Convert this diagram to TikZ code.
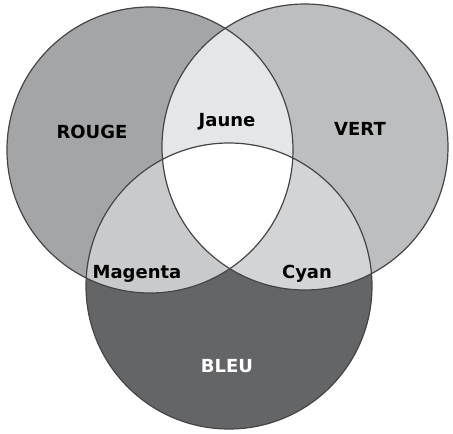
\documentclass[tikz,border=0pt]{standalone}
\usepackage{fontspec}
\setmainfont{DejaVu Sans}
\definecolor{rougegris}{HTML}{A4A5A7}
\definecolor{vertgris}{HTML}{BDBEC0}
\definecolor{bleugris}{HTML}{646567}
\definecolor{jaunegris}{HTML}{E4E6E8}
\definecolor{magentagris}{HTML}{C9CACC}
\definecolor{cyangris}{HTML}{D3D4D6}
\definecolor{trait}{HTML}{454547}
\tikzstyle{label} = [font=\fontsize{18}{20}\selectfont\bfseries, text=black]
\tikzstyle{contour} = [draw=trait, line width=1.2pt]

\begin{document}
\begin{tikzpicture}[x=1pt,y=-1pt]
  \useasboundingbox (0,0) rectangle (453,434);
  \fill[white] (0,0) rectangle (453,434);

  \coordinate (R) at (150,150);
  \coordinate (V) at (305,147);
  \coordinate (B) at (229,286);
  \def\rayon{143}

  % disques simples
  \fill[rougegris] (R) circle (\rayon);
  \fill[vertgris]  (V) circle (\rayon);
  \fill[bleugris]  (B) circle (\rayon);

  % intersections
  \begin{scope}
    \clip (R) circle (\rayon);
    \fill[jaunegris]   (V) circle (\rayon);
    \fill[magentagris] (B) circle (\rayon);
  \end{scope}
  \begin{scope}
    \clip (V) circle (\rayon);
    \fill[cyangris] (B) circle (\rayon);
  \end{scope}
  \begin{scope}
    \clip (R) circle (\rayon);
    \clip (V) circle (\rayon);
    \fill[white] (B) circle (\rayon);
  \end{scope}

  \draw[contour] (R) circle (\rayon);
  \draw[contour] (V) circle (\rayon);
  \draw[contour] (B) circle (\rayon);

  \node[label] (rouge)   at (92,132)  {ROUGE};
  \node[label] (jaune)   at (227,122) {Jaune};
  \node[label] (vert)    at (360,129) {VERT};
  \node[label] (magenta) at (137,274) {Magenta};
  \node[label] (cyan)    at (307,274) {Cyan};
  \node[label, text=white] (bleu) at (227,366) {BLEU};
\end{tikzpicture}
\end{document}
